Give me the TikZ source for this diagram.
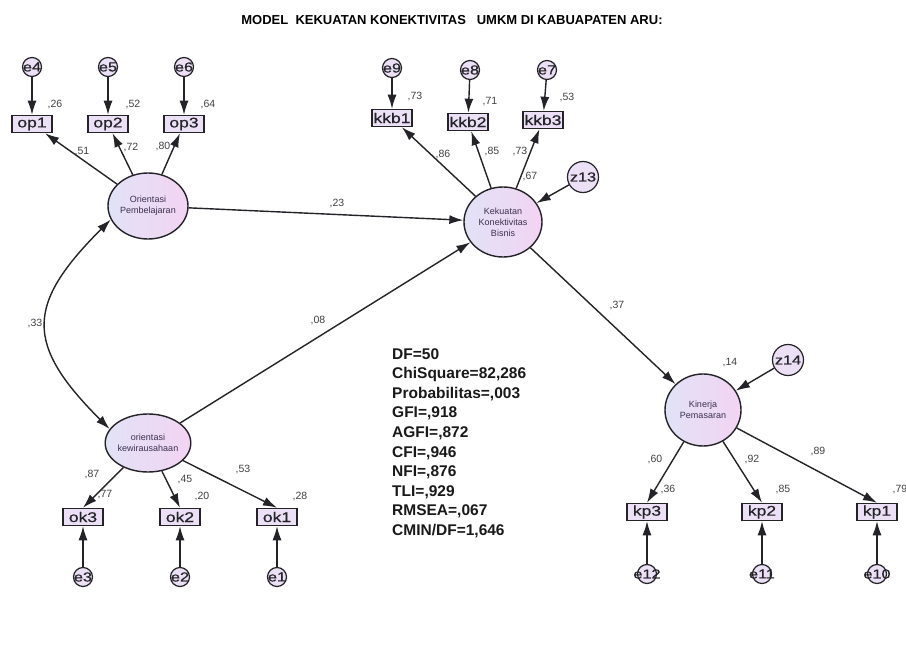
\documentclass[tikz,border=0pt]{standalone}
\usepackage{fontspec}
\setmainfont{Liberation Sans}
\newfontfamily\boxfont[FakeStretch=1.25,FakeBold=0.6]{Liberation Sans}
\usetikzlibrary{arrows.meta,shapes.geometric}

\definecolor{lav}{RGB}{236,224,246}
\definecolor{lavl}{RGB}{226,226,246}
\definecolor{lavr}{RGB}{242,212,242}
\definecolor{edge}{RGB}{35,35,40}
\definecolor{numgray}{RGB}{65,65,65}
\definecolor{lattext}{RGB}{60,48,80}

\newcommand{\ec}[1]{\makebox[0pt]{#1}}

\tikzset{
  latent/.style={ellipse,draw=edge,line width=1.4pt,left color=lavl,right color=lavr,inner sep=0pt,
    font=\fontsize{9}{11}\selectfont,text=lattext,align=center},
  obsbox/.style={rectangle,draw=edge,line width=1.5pt,fill=lav,minimum width=40pt,minimum height=17pt,
    inner sep=0pt,font=\boxfont\fontsize{14}{14}\selectfont,text=edge},
  errc/.style={circle,draw=edge,line width=1.2pt,fill=lav,minimum size=19pt,inner sep=0pt,
    font=\boxfont\fontsize{13}{13}\selectfont,text=edge},
  distc/.style={errc,minimum size=31pt},
  coef/.style={font=\fontsize{10.5}{10.5}\selectfont,text=numgray,inner sep=0pt},
  link/.style={->,draw=edge,line width=1.4pt},
}

\begin{document}
\begin{tikzpicture}[x=1pt,y=-1pt,>={Latex[length=14pt,width=9pt]}]
\useasboundingbox (0,0) rectangle (906,650);
\fill[white] (0,0) rectangle (906,650);

\node[font=\fontsize{13}{15}\selectfont\bfseries] (title) at (452,20) {MODEL\ \ KEKUATAN KONEKTIVITAS\ \ \ UMKM DI KABUAPATEN ARU:};

% latent variables
\node[latent,minimum width=80pt,minimum height=66pt] (op) at (148,206) {Orientasi\\Pembelajaran};
\node[latent,minimum width=78pt,minimum height=70pt] (kkb) at (503,222) {Kekuatan\\Konektivitas\\Bisnis};
\node[latent,minimum width=78pt,minimum height=58pt] (ok) at (148,443) {orientasi\\kewirausahaan};
\node[latent,minimum width=76pt,minimum height=72pt] (kp) at (703,410) {Kinerja\\Pemasaran};

\node[distc] (z13) at (583,177) {z13};
\node[distc] (z14) at (788,360) {z14};

% indicators
\node[obsbox] (op1) at (32,124) {op1};
\node[obsbox] (op2) at (108,124) {op2};
\node[obsbox] (op3) at (184,124) {op3};
\node[errc] (e4) at (32,67) {\ec{e4}};
\node[errc] (e5) at (108,67) {\ec{e5}};
\node[errc] (e6) at (184,67) {\ec{e6}};

\node[obsbox] (kkb1) at (392,118) {kkb1};
\node[obsbox] (kkb2) at (468,122) {kkb2};
\node[obsbox] (kkb3) at (543,120) {kkb3};
\node[errc] (e9) at (392,68) {\ec{e9}};
\node[errc] (e8) at (470,70) {\ec{e8}};
\node[errc] (e7) at (547,70) {\ec{e7}};

\node[obsbox] (ok3) at (83,517) {ok3};
\node[obsbox] (ok2) at (180,517) {ok2};
\node[obsbox] (ok1) at (277,517) {ok1};
\node[errc] (e3) at (83,577) {\ec{e3}};
\node[errc] (e2) at (180,577) {\ec{e2}};
\node[errc] (e1) at (277,577) {\ec{e1}};

\node[obsbox] (kp3) at (647,512) {kp3};
\node[obsbox] (kp2) at (762,512) {kp2};
\node[obsbox] (kp1) at (877,512) {kp1};
\node[errc] (e12) at (647,574) {\ec{e12}};
\node[errc] (e11) at (762,574) {\ec{e11}};
\node[errc] (e10) at (877,574) {\ec{e10}};

% paths
\draw[link] (e4) -- (op1);
\draw[link] (e5) -- (op2);
\draw[link] (e6) -- (op3);
\draw[link] (op) -- (op1);
\draw[link] (op) -- (op2);
\draw[link] (op) -- (op3);

\draw[link] (e9) -- (kkb1);
\draw[link] (e8) -- (kkb2);
\draw[link] (e7) -- (kkb3);
\draw[link] (kkb) -- (kkb1);
\draw[link] (kkb) -- (kkb2);
\draw[link] (kkb) -- (kkb3);
\draw[link] (z13) -- (kkb);

\draw[link] (ok) -- (ok3.north);
\draw[link] (ok) -- (ok2.north);
\draw[link] (ok) -- (ok1.north);
\draw[link] (e3) -- (ok3);
\draw[link] (e2) -- (ok2);
\draw[link] (e1) -- (ok1);

\draw[link] (kp) -- (kp3.north);
\draw[link] (kp) -- (kp2.north);
\draw[link] (kp) -- (kp1.north);
\draw[link] (e12) -- (kp3);
\draw[link] (e11) -- (kp2);
\draw[link] (e10) -- (kp1);
\draw[link] (z14) -- (kp);

\draw[link] (op) -- (kkb);
\draw[link] (ok) -- (kkb);
\draw[link] (kkb) -- (kp);
\draw[link,<->] (op.200) .. controls +(-85,85) and +(-85,-85) .. (ok.160);

% estimates
\node[coef] (r1) at (55,105) {,26};
\node[coef] (r2) at (133,105) {,52};
\node[coef] (r3) at (208,105) {,64};
\node[coef] (l1) at (82,152) {,51};
\node[coef] (l2) at (131,148) {,72};
\node[coef] (l3) at (163,147) {,80};

\node[coef] (r4) at (415,97) {,73};
\node[coef] (r5) at (490,102) {,71};
\node[coef] (r6) at (567,98) {,53};
\node[coef] (l4) at (443,155) {,86};
\node[coef] (l5) at (492,152) {,85};
\node[coef] (l6) at (520,152) {,73};
\node[coef] (r7) at (530,177) {,67};

\node[coef] (l7) at (92,475) {,87};
\node[coef] (r8) at (105,495) {,77};
\node[coef] (l8) at (185,480) {,45};
\node[coef] (r9) at (202,497) {,20};
\node[coef] (l9) at (243,470) {,53};
\node[coef] (r10) at (300,497) {,28};

\node[coef] (r11) at (730,363) {,14};
\node[coef] (l10) at (655,460) {,60};
\node[coef] (l11) at (752,460) {,92};
\node[coef] (l12) at (818,452) {,89};
\node[coef] (r12) at (668,490) {,36};
\node[coef] (r13) at (783,490) {,85};
\node[coef] (r14) at (900,490) {,79};

\node[coef] (b1) at (337,204) {,23};
\node[coef] (b2) at (318,321) {,08};
\node[coef] (b3) at (35,324) {,33};
\node[coef] (b4) at (617,306) {,37};

% fit indices
\node[anchor=north west,align=left,inner sep=0pt,text={rgb,255:red,25;green,25;blue,25},
  font=\fontsize{15.5}{19.6}\selectfont\bfseries] (fit) at (392,348)
  {DF=50\\ChiSquare=82,286\\Probabilitas=,003\\GFI=,918\\AGFI=,872\\CFI=,946\\NFI=,876\\TLI=,929\\RMSEA=,067\\CMIN/DF=1,646};

\end{tikzpicture}
\end{document}
